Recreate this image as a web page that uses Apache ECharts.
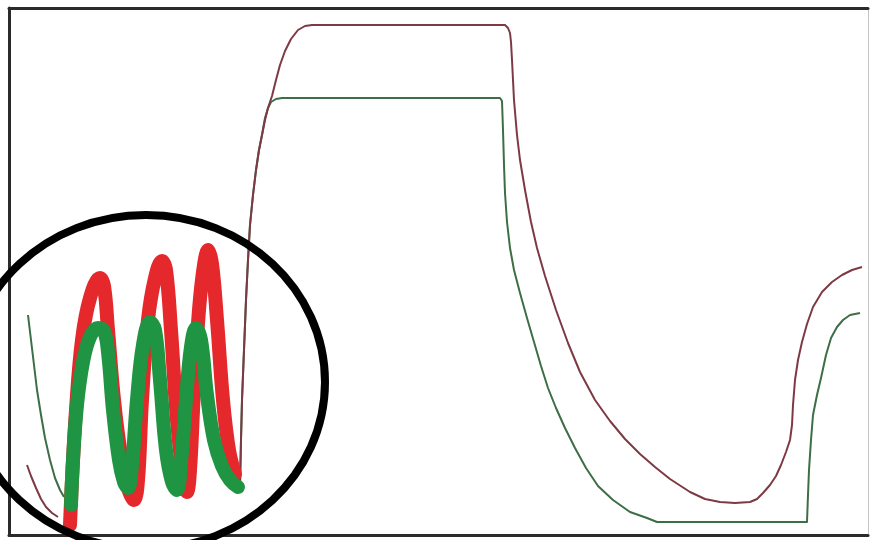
<!DOCTYPE html>
<html>
<head>
<meta charset="utf-8">
<script src="https://cdn.jsdelivr.net/npm/echarts@6/dist/echarts.min.js"></script>
<style>
    html, body { margin: 0; padding: 0; background: #fff; }
    #chart { width: 872px; height: 540px; }
</style>
</head>
<body>
<div id="chart"></div>
<script>
// values: [time, level] (level axis runs downwards)
const redThinStart = [[27,465],[31,476],[36,488],[41,499],[46,507],[52,513],[58,517]];
const greenThinStart = [[28,315],[31,340],[34,365],[37,390],[41,415],[45,438],[50,460],[55,478],[60,490],[64,497]];

const riseCommon = [[240,485],[241,440],[242,400],[244,350],[246,300],[248,260],[250,225],[253,195],[256,170],[259,150],[262,135]];

const redThinMain = riseCommon.concat([
    [265,120],[268,108],[272,96],[276,80],[280,65],[285,51],[291,39],[298,30],[305,26],[312,25],
    [505,25],[508,28],[510,33],[511,42],[512,60],[514,100],[517,135],[520,160],[525,190],[531,222],
    [537,248],[545,276],[556,310],[568,343],[580,372],[595,400],[610,421],[625,439],[640,454],[655,467],
    [670,479],[690,492],[705,499],[720,502],[735,503],[750,502],[757,499],[763,493],[770,485],[776,476],
    [781,465],[786,452],[790,440],[792,425],[793,405],[795,380],[798,360],[802,342],[807,324],[813,307],
    [822,292],[832,282],[842,275],[852,270],[862,267]
]);

const greenThinMain = riseCommon.concat([
    [265,118],[268,108],[271,102],[276,99],[282,98],
    [500,98],[502,101],[503,130],[504,165],[505,193],[507,222],[510,248],[514,270],[520,293],[527,318],
    [534,342],[541,366],[548,388],[556,408],[565,428],[575,448],[586,468],[598,486],[613,500],[630,512],
    [647,518],[657,522],[807,522],[808,495],[809,470],[811,440],[813,415],[817,395],[821,378],[826,355],
    [831,338],[837,327],[843,320],[850,315],[860,313]
]);

const redThick = [
    [70,525],[72,480],[76,410],[82,340],[90,298],[100,278],[104,286],[108,330],[114,400],[121,455],
    [128,488],[134,500],[138,480],[142,400],[148,320],[155,278],[162,261],[166,270],[171,330],[177,420],
    [183,475],[187,492],[190,470],[194,390],[199,310],[204,265],[208,250],[212,264],[217,320],[223,400],
    [229,450],[235,474]
];

const greenThick = [
    [71,505],[73,460],[77,405],[83,362],[90,337],[98,328],[104,331],[108,352],[113,410],[119,460],
    [124,482],[128,488],[132,465],[137,400],[143,345],[150,322],[155,330],[160,380],[166,450],[172,482],
    [177,490],[181,462],[186,400],[191,347],[196,328],[201,340],[207,395],[214,440],[222,466],[230,480],
    [238,487]
];

// hand-drawn ring round the left part
const ringCenter = [146, 382];
const ringRadius = [179, 167];

const chart = echarts.init(document.getElementById('chart'), null, { renderer: 'canvas' });

function thin(data, color, z) {
    return {
        type: 'line', data, z,
        showSymbol: false, smooth: false,
        lineStyle: { color, width: 2, join: 'round' },
        silent: true, animation: false
    };
}
function thick(data, color, z) {
    return {
        type: 'line', data, z,
        showSymbol: false, smooth: 0.4,
        lineStyle: { color, width: 14, cap: 'round', join: 'round' },
        silent: true, animation: false
    };
}

chart.setOption({
    animation: false,
    backgroundColor: '#fff',
    grid: { left: 9, right: 4, top: 8, bottom: 5, show: false },
    xAxis: [
        {
            type: 'value', min: 9, max: 868, position: 'bottom',
            axisLine: { onZero: false, lineStyle: { color: '#2b2b2b', width: 3 } },
            axisTick: { show: false }, axisLabel: { show: false }, splitLine: { show: false }
        },
        {
            type: 'value', min: 9, max: 868, position: 'top',
            axisLine: { onZero: false, lineStyle: { color: '#2b2b2b', width: 3 } },
            axisTick: { show: false }, axisLabel: { show: false }, splitLine: { show: false }
        }
    ],
    yAxis: [
        {
            type: 'value', min: 8, max: 535, inverse: true, position: 'left',
            axisLine: { show: true, onZero: false, lineStyle: { color: '#2b2b2b', width: 3 } },
            axisTick: { show: false }, axisLabel: { show: false }, splitLine: { show: false }
        },
        {
            type: 'value', min: 8, max: 535, inverse: true, position: 'right',
            axisLine: { show: true, onZero: false, lineStyle: { color: '#c4c4c4', width: 1 } },
            axisTick: { show: false }, axisLabel: { show: false }, splitLine: { show: false }
        }
    ],
    series: [
        thin(greenThinStart, '#3d6e46', 2),
        thin(redThinStart, '#7e3a44', 2),
        thin(greenThinMain, '#3d6e46', 3),
        thin(redThinMain, '#7e3a44', 3),
        thick(redThick, '#e4282b', 4),
        thick(greenThick, '#1f9442', 5)
    ]
});

const c = chart.convertToPixel({ gridIndex: 0 }, ringCenter);
const edge = chart.convertToPixel({ gridIndex: 0 }, [ringCenter[0] + ringRadius[0], ringCenter[1] + ringRadius[1]]);

chart.setOption({
    graphic: [{
        type: 'ellipse',
        z: 100,
        silent: true,
        shape: { cx: c[0], cy: c[1], rx: edge[0] - c[0], ry: edge[1] - c[1] },
        style: { fill: 'none', stroke: '#000', lineWidth: 8 }
    }]
});
</script>
</body>
</html>
